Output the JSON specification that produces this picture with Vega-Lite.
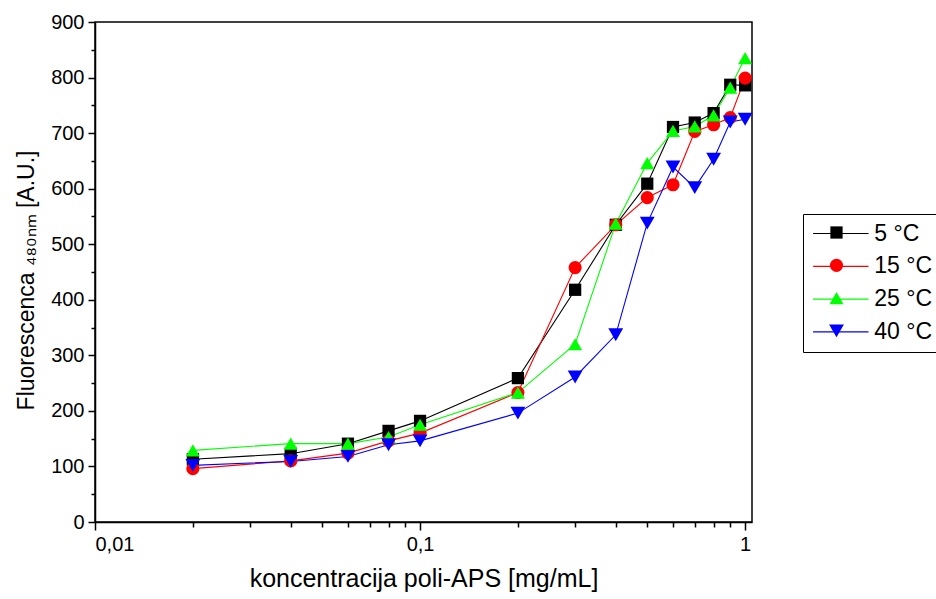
{
  "$schema": "https://vega.github.io/schema/vega-lite/v6.json",
  "width": 657,
  "height": 500,
  "autosize": {"type": "none"},
  "padding": {"left": 95, "top": 22, "right": 184, "bottom": 77},
  "background": "white",
  "config": {
    "font": "Liberation Sans",
    "view": {"stroke": "black", "strokeWidth": 1.5},
    "axis": {
      "domainColor": "black",
      "domainWidth": 1.5,
      "tickColor": "black",
      "tickWidth": 1.5,
      "labelColor": "black",
      "titleColor": "black",
      "labelFont": "Liberation Sans",
      "titleFont": "Liberation Sans",
      "labelFontSize": 20,
      "titleFontSize": 25,
      "titleFontWeight": "normal",
      "grid": false
    }
  },
  "data": {
    "values": [
      {"c": 0.02, "f": 113, "series": "5 °C", "t": 5},
      {"c": 0.04, "f": 123, "series": "5 °C", "t": 5},
      {"c": 0.06, "f": 141, "series": "5 °C", "t": 5},
      {"c": 0.08, "f": 164, "series": "5 °C", "t": 5},
      {"c": 0.1, "f": 182, "series": "5 °C", "t": 5},
      {"c": 0.2, "f": 259, "series": "5 °C", "t": 5},
      {"c": 0.3, "f": 418, "series": "5 °C", "t": 5},
      {"c": 0.4, "f": 535, "series": "5 °C", "t": 5},
      {"c": 0.5, "f": 609, "series": "5 °C", "t": 5},
      {"c": 0.6, "f": 711, "series": "5 °C", "t": 5},
      {"c": 0.7, "f": 719, "series": "5 °C", "t": 5},
      {"c": 0.8, "f": 736, "series": "5 °C", "t": 5},
      {"c": 0.9, "f": 787, "series": "5 °C", "t": 5},
      {"c": 1.0, "f": 786, "series": "5 °C", "t": 5},
      {"c": 0.02, "f": 96, "series": "15 °C", "t": 15},
      {"c": 0.04, "f": 110, "series": "15 °C", "t": 15},
      {"c": 0.06, "f": 124, "series": "15 °C", "t": 15},
      {"c": 0.08, "f": 146, "series": "15 °C", "t": 15},
      {"c": 0.1, "f": 160, "series": "15 °C", "t": 15},
      {"c": 0.2, "f": 233, "series": "15 °C", "t": 15},
      {"c": 0.3, "f": 458, "series": "15 °C", "t": 15},
      {"c": 0.4, "f": 535, "series": "15 °C", "t": 15},
      {"c": 0.5, "f": 584, "series": "15 °C", "t": 15},
      {"c": 0.6, "f": 607, "series": "15 °C", "t": 15},
      {"c": 0.7, "f": 703, "series": "15 °C", "t": 15},
      {"c": 0.8, "f": 715, "series": "15 °C", "t": 15},
      {"c": 0.9, "f": 728, "series": "15 °C", "t": 15},
      {"c": 1.0, "f": 799, "series": "15 °C", "t": 15},
      {"c": 0.02, "f": 129, "series": "25 °C", "t": 25},
      {"c": 0.04, "f": 141, "series": "25 °C", "t": 25},
      {"c": 0.06, "f": 141, "series": "25 °C", "t": 25},
      {"c": 0.08, "f": 153, "series": "25 °C", "t": 25},
      {"c": 0.1, "f": 175, "series": "25 °C", "t": 25},
      {"c": 0.2, "f": 233, "series": "25 °C", "t": 25},
      {"c": 0.3, "f": 320, "series": "25 °C", "t": 25},
      {"c": 0.4, "f": 537, "series": "25 °C", "t": 25},
      {"c": 0.5, "f": 646, "series": "25 °C", "t": 25},
      {"c": 0.6, "f": 704, "series": "25 °C", "t": 25},
      {"c": 0.7, "f": 712, "series": "25 °C", "t": 25},
      {"c": 0.8, "f": 732, "series": "25 °C", "t": 25},
      {"c": 0.9, "f": 782, "series": "25 °C", "t": 25},
      {"c": 1.0, "f": 835, "series": "25 °C", "t": 25},
      {"c": 0.02, "f": 102, "series": "40 °C", "t": 40},
      {"c": 0.04, "f": 109, "series": "40 °C", "t": 40},
      {"c": 0.06, "f": 118, "series": "40 °C", "t": 40},
      {"c": 0.08, "f": 139, "series": "40 °C", "t": 40},
      {"c": 0.1, "f": 146, "series": "40 °C", "t": 40},
      {"c": 0.2, "f": 196, "series": "40 °C", "t": 40},
      {"c": 0.3, "f": 261, "series": "40 °C", "t": 40},
      {"c": 0.4, "f": 337, "series": "40 °C", "t": 40},
      {"c": 0.5, "f": 538, "series": "40 °C", "t": 40},
      {"c": 0.6, "f": 639, "series": "40 °C", "t": 40},
      {"c": 0.7, "f": 602, "series": "40 °C", "t": 40},
      {"c": 0.8, "f": 653, "series": "40 °C", "t": 40},
      {"c": 0.9, "f": 720, "series": "40 °C", "t": 40},
      {"c": 1.0, "f": 725, "series": "40 °C", "t": 40}
    ]
  },
  "layer": [
    {
      "mark": {"type": "line", "strokeWidth": 1.1},
      "encoding": {
        "x": {
          "field": "c", "type": "quantitative",
          "scale": {"type": "log", "domain": [0.01, 1.05], "nice": false},
          "axis": {
            "orient": "bottom",
            "values": [0.01, 0.1, 1],
            "labelExpr": "replace(toString(datum.value), '.', ',')",
            "tickSize": 8,
            "labelPadding": 4,
            "title": "koncentracija poli-APS [mg/mL]",
            "titlePadding": 12
          }
        },
        "y": {
          "field": "f", "type": "quantitative",
          "scale": {"domain": [0, 900], "nice": false},
          "axis": {
            "orient": "left",
            "values": [0, 100, 200, 300, 400, 500, 600, 700, 800, 900],
            "tickSize": 7,
            "labelPadding": 4,
            "title": "Fluorescenca ₄₈₀ₙₘ [A.U.]",
            "titleFontSize": 23,
            "titleY": 258,
            "titlePadding": 12
          }
        },
        "stroke": {
          "field": "t", "type": "ordinal",
          "scale": {"range": ["#000000", "#ff0000", "#00ff00", "#0000ff"]},
          "legend": {
            "orient": "none", "legendX": 708, "legendY": 192,
            "title": null,
            "symbolType": "M-3.2,0H3.2",
            "symbolSize": 300,
            "symbolStrokeWidth": 1.2,
            "symbolOffset": 18.3,
            "labelExpr": "datum.label + ' °C'",
            "labelFontSize": 23,
            "labelFont": "Liberation Sans",
            "labelColor": "black",
            "labelOffset": 22,
            "strokeColor": "black",
            "fillColor": "white",
            "padding": 8,
            "rowPadding": 8.8
          }
        },
        "detail": {"field": "series"}
      }
    },
    {
      "mark": {"type": "point", "filled": true, "opacity": 1},
      "encoding": {
        "x": {
          "field": "c", "type": "quantitative",
          "axis": {
            "orient": "bottom",
            "values": [0.02, 0.03, 0.04, 0.05, 0.06, 0.07, 0.08, 0.09, 0.2, 0.3, 0.4, 0.5, 0.6, 0.7, 0.8, 0.9],
            "labels": false, "domain": false, "tickSize": 5, "title": null
          }
        },
        "y": {
          "field": "f", "type": "quantitative",
          "axis": {
            "orient": "left",
            "values": [50, 150, 250, 350, 450, 550, 650, 750, 850],
            "labels": false, "domain": false, "tickSize": 4, "title": null
          }
        },
        "fill": {
          "field": "series", "type": "nominal",
          "scale": {"domain": ["5 °C", "15 °C", "25 °C", "40 °C"], "range": ["#000000", "#ff0000", "#00ff00", "#0000ff"]},
          "legend": {
            "orient": "none", "legendX": 730, "legendY": 199,
            "title": null,
            "symbolOffset": 0,
            "labelOpacity": 0,
            "labelFontSize": 23,
            "labelOffset": 8,
            "padding": 0,
            "rowPadding": 8.8
          }
        },
        "shape": {
          "field": "series", "type": "nominal",
          "scale": {"domain": ["5 °C", "15 °C", "25 °C", "40 °C"], "range": ["square", "circle", "triangle-up", "triangle-down"]}
        },
        "size": {
          "field": "series", "type": "nominal",
          "scale": {"domain": ["5 °C", "15 °C", "25 °C", "40 °C"], "range": [150, 220, 270, 270]}
        },
        "order": {"field": "t"}
      }
    }
  ],
  "resolve": {"axis": {"x": "independent", "y": "independent"}}
}
